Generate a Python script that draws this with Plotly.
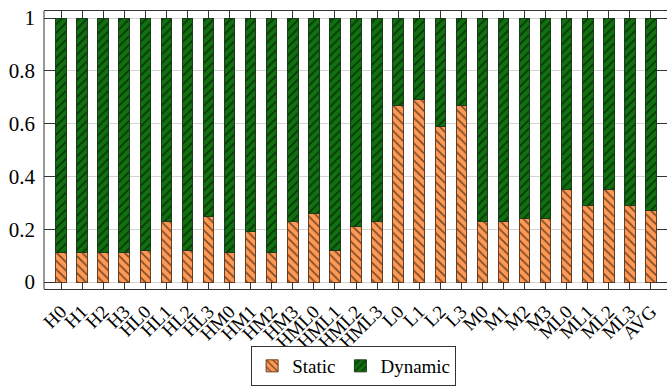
import plotly.graph_objects as go

# Benchmarks, plus the average
categories = ["H0", "H1", "H2", "H3", "HL0", "HL1", "HL2", "HL3",
              "HM0", "HM1", "HM2", "HM3", "HML0", "HML1", "HML2", "HML3",
              "L0", "L1", "L2", "L3", "M0", "M1", "M2", "M3",
              "ML0", "ML1", "ML2", "ML3", "AVG"]

# Fraction of energy that is static; the remainder is dynamic
static = [0.11, 0.11, 0.11, 0.11, 0.12, 0.23, 0.12, 0.25,
          0.11, 0.19, 0.11, 0.23, 0.26, 0.12, 0.21, 0.23,
          0.67, 0.69, 0.59, 0.67, 0.23, 0.23, 0.24, 0.24,
          0.35, 0.29, 0.35, 0.29, 0.27]
dynamic = [round(1 - s, 2) for s in static]

y_ticks = [0, 0.2, 0.4, 0.6, 0.8, 1]
y_tick_text = ["0", "0.2", "0.4", "0.6", "0.8", "1"]

FONT = "Liberation Serif, Times New Roman, serif"
ORANGE = "#ff9a55"
GREEN = "#11700f"

fig = go.Figure()
fig.add_trace(go.Bar(
    name="Static", x=categories, y=static, width=0.5,
    marker=dict(color=ORANGE,
                line=dict(color="#6a3d1e", width=1),
                pattern=dict(shape="\\", fgcolor="#000000", bgcolor=ORANGE,
                             size=6, solidity=0.3, fillmode="overlay")),
))
fig.add_trace(go.Bar(
    name="Dynamic", x=categories, y=dynamic, width=0.5,
    marker=dict(color=GREEN,
                line=dict(color="#1c3a1c", width=1),
                pattern=dict(shape="/", fgcolor="#000000", bgcolor=GREEN,
                             size=6, solidity=0.3, fillmode="overlay")),
))

fig.update_layout(
    barmode="stack",
    width=667, height=386,
    margin=dict(l=44, r=0, t=11, b=97),
    paper_bgcolor="white", plot_bgcolor="white",
    font=dict(family=FONT, size=18, color="black"),
    showlegend=True,
    legend=dict(orientation="h", x=0.497, xanchor="center",
                y=-0.207, yanchor="top",
                bordercolor="#333333", borderwidth=1,
                font=dict(family=FONT, size=19, color="black"),
                traceorder="normal"),
    xaxis=dict(
        type="category",
        range=[-0.807, 28.76],
        tickmode="array", tickvals=categories, ticktext=categories,
        showline=True, linecolor="#333333", linewidth=1, mirror="ticks",
        ticks="inside", ticklen=7, tickcolor="#333333", tickwidth=1,
        tickangle=-45, showgrid=False, zeroline=False,
        tickfont=dict(family=FONT, size=19, color="black"),
        ticklabelstandoff=3,
    ),
    yaxis=dict(
        range=[-0.0265, 1.0265],
        tickvals=y_ticks, ticktext=y_tick_text,
        showline=False, mirror="ticks",
        ticks="inside", ticklen=11, tickcolor="#333333", tickwidth=1,
        showgrid=True, gridcolor="#d4d4d4", gridwidth=1,
        zeroline=False,
        tickfont=dict(family=FONT, size=21, color="black"),
        ticklabelstandoff=8,
    ),
    shapes=[dict(type="line", xref="paper", yref="paper",
                 x0=0, x1=0, y0=0, y1=1,
                 line=dict(color="#333333", width=1))],
)

fig.write_html("out.html")
